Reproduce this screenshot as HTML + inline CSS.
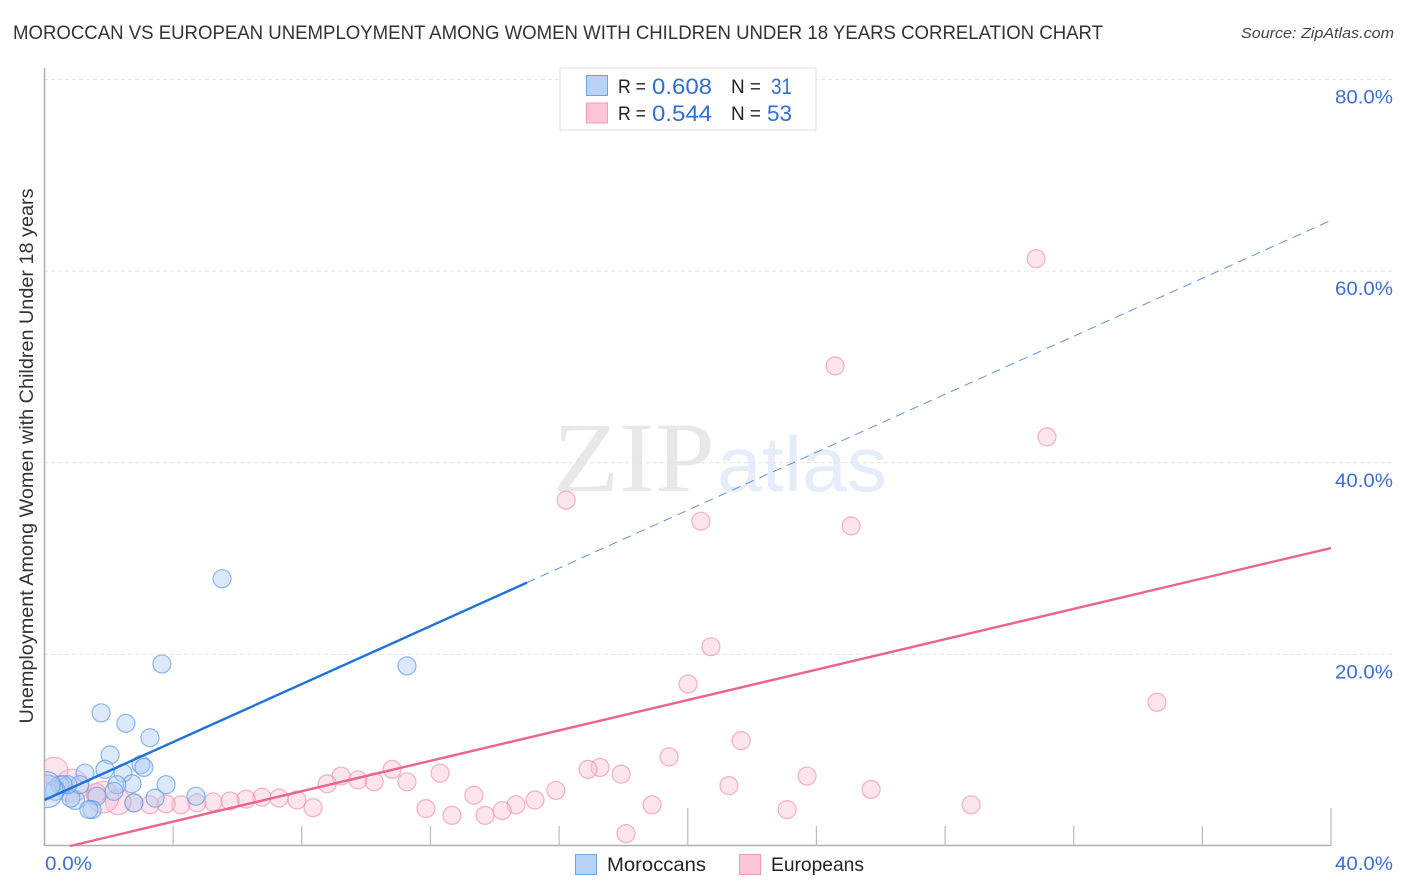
<!DOCTYPE html>
<html lang="en">
<head>
<meta charset="utf-8">
<title>Moroccan vs European Unemployment Correlation Chart</title>
<style>
html,body{margin:0;padding:0;background:#fff;width:1406px;height:892px;overflow:hidden}
svg{display:block}
text{font-family:"Liberation Sans",sans-serif}
</style>
</head>
<body>
<svg id="chart" width="1406" height="892" viewBox="0 0 1406 892" xmlns="http://www.w3.org/2000/svg">
  <defs><clipPath id="plot-clip"><rect x="45" y="60" width="1300" height="786"/></clipPath></defs>
  <text x="13" y="39" font-size="19" fill="#333" textLength="1090" lengthAdjust="spacingAndGlyphs">MOROCCAN VS EUROPEAN UNEMPLOYMENT AMONG WOMEN WITH CHILDREN UNDER 18 YEARS CORRELATION CHART</text>
  <text x="1394" y="38" font-size="15" font-style="italic" fill="#444" text-anchor="end" textLength="153" lengthAdjust="spacingAndGlyphs">Source: ZipAtlas.com</text>
  <g id="watermark">
    <text x="553" y="491" font-size="100" fill="#e8e8e8" style="font-family:'Liberation Serif',serif" textLength="162" lengthAdjust="spacingAndGlyphs">ZIP</text>
    <text x="717" y="491" font-size="78" fill="#e4edf9" textLength="170" lengthAdjust="spacingAndGlyphs">atlas</text>
  </g>
  <g id="grid"></g>
  <g id="axes"></g>
  <g id="points-european" clip-path="url(#plot-clip)"></g>
  <g id="points-moroccan" clip-path="url(#plot-clip)"></g>
  <g id="trends"></g>
  <text transform="translate(33,456) rotate(-90)" font-size="19" fill="#333" text-anchor="middle" textLength="535" lengthAdjust="spacingAndGlyphs">Unemployment Among Women with Children Under 18 years</text>
  <g>
    <rect x="560" y="68" width="256" height="62" fill="#fff" stroke="#dfdfdf" stroke-width="1"/>
    <rect x="586.500" y="75.500" width="21" height="20" fill="#b8d3f7" stroke="#6fa3e4"/>
    <rect x="586.500" y="103" width="21" height="20" fill="#fdc6d8" stroke="#f09ab8"/>
    <text x="618" y="93" font-size="19" fill="#222" textLength="28" lengthAdjust="spacingAndGlyphs">R =</text>
    <text x="652" y="94" font-size="22" fill="#2f6fd0" textLength="60" lengthAdjust="spacingAndGlyphs">0.608</text>
    <text x="731" y="93" font-size="19" fill="#222" textLength="30" lengthAdjust="spacingAndGlyphs">N =</text>
    <text x="771" y="94" font-size="22" fill="#2f6fd0" textLength="21" lengthAdjust="spacingAndGlyphs">31</text>
    <text x="618" y="120" font-size="19" fill="#222" textLength="28" lengthAdjust="spacingAndGlyphs">R =</text>
    <text x="652" y="121" font-size="22" fill="#2f6fd0" textLength="60" lengthAdjust="spacingAndGlyphs">0.544</text>
    <text x="731" y="120" font-size="19" fill="#222" textLength="30" lengthAdjust="spacingAndGlyphs">N =</text>
    <text x="767" y="121" font-size="22" fill="#2f6fd0" textLength="25" lengthAdjust="spacingAndGlyphs">53</text>
  </g>
  <g>
    <rect x="575.500" y="854.500" width="21" height="20" fill="#b8d3f7" stroke="#6fa3e4"/>
    <text x="607" y="871" font-size="19.500" fill="#222" textLength="99" lengthAdjust="spacingAndGlyphs">Moroccans</text>
    <rect x="739.500" y="854.500" width="21" height="20" fill="#fdc6d8" stroke="#f09ab8"/>
    <text x="771" y="871" font-size="19.500" fill="#222" textLength="93" lengthAdjust="spacingAndGlyphs">Europeans</text>
  </g>
</svg>
<script>
const xTickValues = [0, 4, 8, 12, 16, 20, 24, 28, 32, 36, 40];
const yTickValues = [20, 40, 60, 80];
const yTickLabels = ['20.0%', '40.0%', '60.0%', '80.0%'];
const xEndLabels = ['0.0%', '40.0%'];

const moroccanX = [5.52, 3.65, 11.27, 1.76, 2.53, 3.28, 2.04, 3.00, 3.09, 1.88, 1.26, 2.44, 2.72, 2.25, 3.78, 4.71, 3.44, 2.78, 2.16, 1.63, 0.95, 0.82, 1.10, 0.73, 0.48, 0.58, 1.48, 1.38, 0.33, 0.08, 0.08];
const moroccanY = [27.9, 19.0, 18.8, 13.9, 12.8, 11.3, 9.5, 8.5, 8.2, 8.0, 7.6, 7.6, 6.5, 6.4, 6.4, 5.2, 5.0, 4.5, 5.7, 5.2, 4.8, 5.0, 6.4, 6.4, 6.4, 6.4, 3.8, 3.8, 5.8, 5.7, 6.4];
const moroccanWeight = [1, 1, 1, 1, 1, 1, 1, 1, 1, 1, 1, 1, 1, 1, 1, 1, 1, 1, 1, 1, 1.1, 1, 1, 1, 1, 1, 1, 1, 1.2, 3.2, 2.1];

const europeanX = [30.83, 24.58, 31.17, 16.22, 20.41, 25.08, 20.72, 20.01, 34.59, 21.66, 19.42, 17.27, 16.90, 17.93, 10.81, 9.22, 9.75, 10.25, 8.79, 11.27, 12.30, 23.71, 21.28, 25.70, 15.90, 13.35, 15.25, 14.66, 18.89, 28.81, 23.09, 11.86, 14.23, 13.70, 12.67, 18.08, 8.35, 7.85, 7.29, 6.76, 6.27, 5.77, 5.24, 4.74, 4.24, 3.78, 3.28, 2.78, 2.29, 1.82, 1.60, 0.85, 0.30];
const europeanY = [61.3, 50.1, 42.7, 36.1, 33.9, 33.4, 20.8, 16.9, 15.0, 11.0, 9.3, 8.2, 8.0, 7.5, 8.0, 7.3, 6.9, 6.7, 6.5, 6.7, 7.6, 7.3, 6.3, 5.9, 5.8, 5.3, 4.8, 4.3, 4.3, 4.3, 3.8, 3.9, 3.7, 3.2, 3.2, 1.3, 4.0, 4.8, 5.0, 5.1, 4.9, 4.7, 4.6, 4.5, 4.3, 4.4, 4.3, 4.5, 4.6, 5.1, 5.5, 6.3, 7.8];
const europeanWeight = [1, 1, 1, 1, 1, 1, 1, 1, 1, 1, 1, 1, 1, 1, 1, 1, 1, 1, 1, 1, 1, 1, 1, 1, 1, 1, 1, 1, 1, 1, 1, 1, 1, 1, 1, 1, 1, 1, 1, 1, 1, 1, 1, 1, 1, 1, 1, 1, 2, 3.1, 1.2, 3.4, 2.4];

const moroccanTrend = { start: 4.8, end: 65.3, solidTo: 15.0, xMax: 40 };
const europeanTrend = { start: -0.63, end: 31.1, xMax: 40 };

const NS = 'http://www.w3.org/2000/svg';
const xScale = function (v) { return 44.5 + v * (1331 - 44.5) / 40; };
const yScale = function (v) { return 846 - v * (846 - 79.5) / 80; };
const rScale = function (w) { return 9 * Math.sqrt(w); };
const make = function (tag, attrs, parent, txt) {
  const el = document.createElementNS(NS, tag);
  Object.keys(attrs).forEach(function (k) { el.setAttribute(k, attrs[k]); });
  if (txt !== undefined) el.textContent = txt;
  parent.appendChild(el);
  return el;
};

const grid = document.getElementById('grid');
yTickValues.forEach(function (v, i) {
  const line = make('line', { x1: 44, x2: 1394, y1: yScale(v), y2: yScale(v), stroke: '#e4e4e4', 'stroke-width': 1, 'stroke-dasharray': '4 3' }, grid);
  
  
  const label = make('text', { x: 1393, y: yScale(v) + 24, 'font-size': 19, fill: '#3d6fd1', 'text-anchor': 'end', textLength: 58, lengthAdjust: 'spacingAndGlyphs' }, grid, yTickLabels[i]);
  
  
});

const axes = document.getElementById('axes');
const yAxis = make('line', { x1: 44.5, x2: 44.5, y1: 68, y2: 846, stroke: '#b0b0b0', 'stroke-width': 1.5 }, axes);


const xAxis = make('line', { x1: 44, x2: 1331.5, y1: 845.5, y2: 845.5, stroke: '#b0b0b0', 'stroke-width': 1.5 }, axes);


xTickValues.slice(1).forEach(function (v) {
  const top = v % 20 === 0 ? 808 : 826;
  const tick = make('line', { x1: xScale(v), x2: xScale(v), y1: top, y2: 846, stroke: '#bbb', 'stroke-width': 1.2 }, axes);
  
  
});
const xLabelStart = make('text', { x: 45, y: 870, 'font-size': 19, fill: '#3d6fd1', textLength: 47, lengthAdjust: 'spacingAndGlyphs' }, axes, xEndLabels[0]);


const xLabelEnd = make('text', { x: 1393, y: 870, 'font-size': 19, fill: '#3d6fd1', 'text-anchor': 'end', textLength: 58, lengthAdjust: 'spacingAndGlyphs' }, axes, xEndLabels[1]);



const drawPoints = function (groupId, xs, ys, ws, fill, stroke, strokeOpacity, name) {
  const g = document.getElementById(groupId);
  
  
  xs.forEach(function (x, i) {
    const c = make('circle', { cx: xScale(x), cy: yScale(ys[i]), r: rScale(ws[i]), fill: fill, 'fill-opacity': 0.42, stroke: stroke, 'stroke-opacity': strokeOpacity, 'stroke-width': 1.2 }, g);
    
    
  });
};
drawPoints('points-european', europeanX, europeanY, europeanWeight, '#fbbfd3', '#ee92b2', 0.7, 'european');
drawPoints('points-moroccan', moroccanX, moroccanY, moroccanWeight, '#a9cbf5', '#5f9ae0', 0.7, 'moroccan');

const trendY = function (t, x) { return t.start + (t.end - t.start) * x / t.xMax; };
const trends = document.getElementById('trends');
const solid = make('line', { x1: xScale(0), y1: yScale(trendY(moroccanTrend, 0)), x2: xScale(moroccanTrend.solidTo), y2: yScale(trendY(moroccanTrend, moroccanTrend.solidTo)), stroke: '#1f72d8', 'stroke-width': 2.4 }, trends);


const dashed = make('line', { x1: xScale(moroccanTrend.solidTo), y1: yScale(trendY(moroccanTrend, moroccanTrend.solidTo)), x2: xScale(moroccanTrend.xMax), y2: yScale(trendY(moroccanTrend, moroccanTrend.xMax)), stroke: '#6592d8', 'stroke-width': 1, 'stroke-dasharray': '9 6' }, trends);


const zeroX = -europeanTrend.start * europeanTrend.xMax / (europeanTrend.end - europeanTrend.start);
const pink = make('line', { x1: xScale(zeroX), y1: yScale(0), x2: xScale(europeanTrend.xMax), y2: yScale(trendY(europeanTrend, europeanTrend.xMax)), stroke: '#e9648f', 'stroke-width': 2.4 }, trends);


</script>
</body>
</html>
